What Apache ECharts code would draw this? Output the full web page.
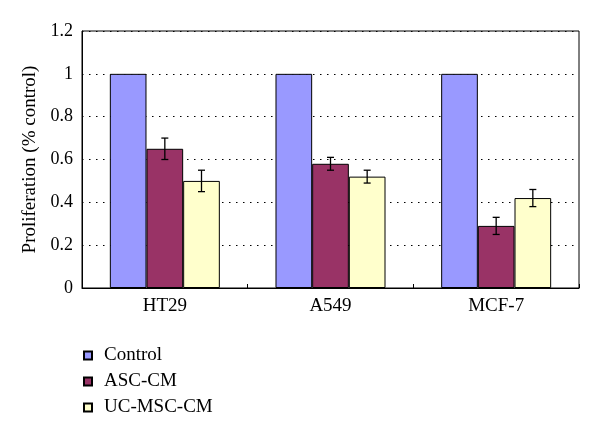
<!DOCTYPE html>
<html>
<head>
<meta charset="utf-8">
<script src="https://cdn.jsdelivr.net/npm/echarts@6/dist/echarts.min.js"></script>
<style>
  html, body { margin: 0; padding: 0; background: #fff; }
  #main { width: 600px; height: 439px; }
</style>
</head>
<body>
<div id="main"></div>
<script>
// data
const categories = ['HT29', 'A549', 'MCF-7']
const seriesNames = ['Control', 'ASC-CM', 'UC-MSC-CM']
const controlValues = [1, 1, 1]
const ascValues = [0.65, 0.58, 0.29]
const ascErrors = [0.05, 0.03, 0.04]
const ucValues = [0.50, 0.52, 0.42]
const ucErrors = [0.05, 0.03, 0.04]
const yTicks = [0, 0.2, 0.4, 0.6, 0.8, 1, 1.2]

const colors = ['#9999FF', '#993366', '#FFFFCC']
const font = 'Liberation Serif'
const categoryGap = 0.336

const chart = echarts.init(document.getElementById('main'))

// error bar custom series, shifted to the bar's slot in the group
function errorSeries (values, errors, slot) {
  return {
    type: 'custom',
    name: seriesNames[slot] + ' err',
    z: 10,
    silent: true,
    data: values.map((v, i) => [i, v - errors[i], v + errors[i]]),
    renderItem (params, api) {
      const band = api.size([1, 0])[0]
      const barW = band * (1 - categoryGap) / 3
      const dx = (slot - 1) * barW
      const lo = api.coord([api.value(0), api.value(1)])
      const hi = api.coord([api.value(0), api.value(2)])
      const x = lo[0] + dx
      const cap = 3.5
      const style = { stroke: '#000', lineWidth: 1.3 }
      return {
        type: 'group',
        children: [
          { type: 'line', shape: { x1: x, y1: lo[1], x2: x, y2: hi[1] }, style },
          { type: 'line', shape: { x1: x - cap, y1: lo[1], x2: x + cap, y2: lo[1] }, style },
          { type: 'line', shape: { x1: x - cap, y1: hi[1], x2: x + cap, y2: hi[1] }, style }
        ]
      }
    }
  }
}

const barStyle = (c) => ({ color: c, borderColor: '#000', borderWidth: 1 })

const option = {
  animation: false,
  textStyle: { fontFamily: font, color: '#000' },
  grid: {
    left: 82, right: 21, top: 31, bottom: 151,
    show: true, borderColor: '#000', borderWidth: 1, backgroundColor: 'transparent'
  },
  legend: {
    orient: 'vertical',
    left: 78,
    top: 341,
    itemWidth: 8,
    itemHeight: 8,
    itemGap: 7,
    icon: 'rect',
    data: seriesNames,
    textStyle: { fontFamily: font, fontSize: 19, color: '#000', lineHeight: 15, padding: [0, 0, 0, 7] }
  },
  xAxis: {
    type: 'category',
    data: categories,
    axisLine: { lineStyle: { color: '#000', width: 1 } },
    axisTick: { show: true, inside: true, length: 4, lineStyle: { color: '#000' } },
    axisLabel: { fontFamily: font, fontSize: 19, color: '#000', margin: 9 }
  },
  yAxis: {
    type: 'value',
    min: yTicks[0],
    max: yTicks[yTicks.length - 1],
    interval: 0.2,
    name: 'Proliferation (% control)',
    nameLocation: 'middle',
    nameGap: 32,
    nameTextStyle: { fontFamily: font, fontSize: 19, color: '#000' },
    axisLine: { show: true, lineStyle: { color: '#000', width: 1 } },
    axisTick: { show: false },
    axisLabel: {
      fontFamily: font, fontSize: 18, color: '#000', margin: 9,
      formatter: (v) => String(Math.round(v * 10) / 10)
    },
    splitLine: { show: true, lineStyle: { color: '#000', type: [1.5, 5.5], width: 1 } }
  },
  series: [
    {
      name: seriesNames[0], type: 'bar', data: controlValues,
      barGap: 0, barCategoryGap: (categoryGap * 100) + '%',
      itemStyle: barStyle(colors[0])
    },
    { name: seriesNames[1], type: 'bar', data: ascValues, itemStyle: barStyle(colors[1]) },
    { name: seriesNames[2], type: 'bar', data: ucValues, itemStyle: barStyle(colors[2]) },
    errorSeries(ascValues, ascErrors, 1),
    errorSeries(ucValues, ucErrors, 2)
  ]
}

chart.setOption(option)
</script>
</body>
</html>
